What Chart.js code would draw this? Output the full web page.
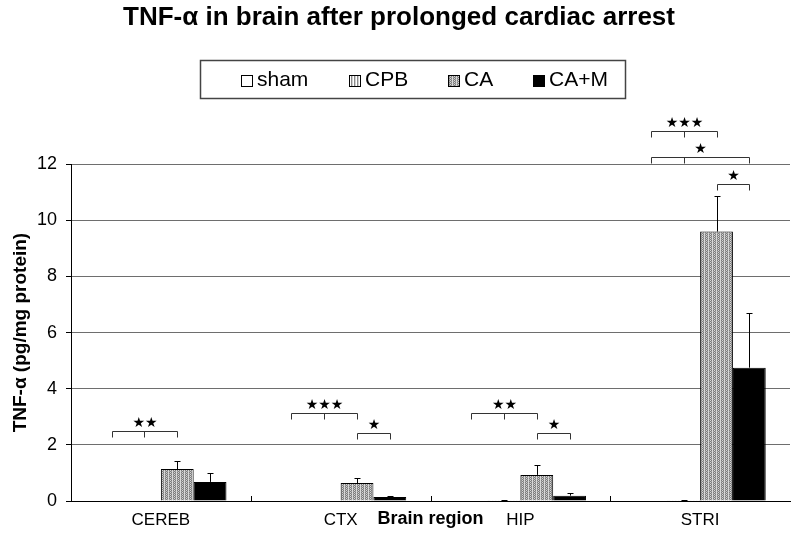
<!DOCTYPE html>
<html>
<head>
<meta charset="utf-8">
<script src="https://cdn.jsdelivr.net/npm/chart.js@4"></script>
<style>
  html, body { margin: 0; padding: 0; background: #fff; }
  #wrap { width: 800px; height: 537px; }
</style>
</head>
<body>
<div id="wrap"><canvas id="chart"></canvas></div>
<script>
// data
const regions = ['CEREB', 'CTX', 'HIP', 'STRI'];
const groups = ['sham', 'CPB', 'CA', 'CA+M'];
const shamVals = [0, 0, 0, 0];
const cpbVals = [0, 0, 0.03, 0.03];
const caVals = [1.14, 0.64, 0.93, 9.6];
const camVals = [0.68, 0.14, 0.19, 4.75];
const shamErr = [0, 0, 0, 0];
const cpbErr = [0, 0, 0.01, 0.01];
const caErr = [0.29, 0.18, 0.35, 1.26];
const camErr = [0.32, 0.03, 0.08, 1.95];
const yTicks = [0, 2, 4, 6, 8, 10, 12];

// significance brackets: region index, from group, to group, middle tick group, height, label
const brackets = [
    [0, 0, 2, 1, 2.5, '★★'],
    [1, 0, 2, 1, 3.15, '★★★'],
    [1, 2, 3, null, 2.43, '★'],
    [2, 0, 2, 1, 3.15, '★★'],
    [2, 2, 3, null, 2.43, '★'],
    [3, 0, 2, 1, 13.2, '★★★'],
    [3, 0, 3, 1, 12.25, '★'],
    [3, 2, 3, null, 11.3, '★']
];

const FONT = "'Liberation Sans', Arial, sans-serif";

function makePattern(kind) {
    const c = document.createElement('canvas');
    const ctx = c.getContext('2d');
    if (kind === 'stripes') {
        c.width = 3; c.height = 1;
        ctx.fillStyle = '#ffffff'; ctx.fillRect(0, 0, 3, 1);
        ctx.fillStyle = '#8a8a8a'; ctx.fillRect(0, 0, 1, 1);
        ctx.fillStyle = '#d0d0d0'; ctx.fillRect(1, 0, 1, 1);
    } else {
        // checker of dark/light with a light column every 4px
        c.width = 4; c.height = 2;
        ctx.fillStyle = '#d8d8d8'; ctx.fillRect(0, 0, 4, 2);
        ctx.fillStyle = '#7c7c7c';
        ctx.fillRect(1, 0, 1, 1);
        ctx.fillRect(3, 0, 1, 1);
        ctx.fillRect(2, 1, 1, 1);
        ctx.fillStyle = '#a8a8a8';
        ctx.fillRect(1, 1, 1, 1);
        ctx.fillRect(3, 1, 1, 1);
    }
    return ctx.createPattern(c, 'repeat');
}

const fills = ['#ffffff', makePattern('stripes'), makePattern('dots'), '#000000'];
const values = [shamVals, cpbVals, caVals, camVals];
const errors = [shamErr, cpbErr, caErr, camErr];

const extras = {
    id: 'extras',
    afterDatasetsDraw(chart) {
        const ctx = chart.ctx;
        const x = chart.scales.x, y = chart.scales.y;
        const area = chart.chartArea;
        ctx.save();
        ctx.strokeStyle = '#000';
        ctx.lineWidth = 1;

        // error bars (upper only)
        values.forEach((vals, d) => {
            const meta = chart.getDatasetMeta(d);
            vals.forEach((v, i) => {
                const e = errors[d][i];
                if (!e) return;
                const cx = Math.round(meta.data[i].x) + 0.5;
                const y0 = y.getPixelForValue(v);
                const y1 = Math.round(y.getPixelForValue(v + e)) + 0.5;
                ctx.beginPath();
                ctx.moveTo(cx, y0);
                ctx.lineTo(cx, y1);
                ctx.moveTo(cx - 3, y1);
                ctx.lineTo(cx + 3, y1);
                ctx.stroke();
            });
        });

        // small upward ticks between regions
        for (let i = 0; i < regions.length - 1; i++) {
            const bx = Math.round((x.getPixelForValue(i) + x.getPixelForValue(i + 1)) / 2) + 0.5;
            ctx.beginPath();
            ctx.moveTo(bx, area.bottom);
            ctx.lineTo(bx, area.bottom - 5);
            ctx.stroke();
        }

        // brackets
        ctx.strokeStyle = '#333';
        ctx.fillStyle = '#000';
        ctx.font = '14px DejaVu Sans';
        ctx.textAlign = 'center';
        ctx.textBaseline = 'bottom';
        brackets.forEach(([r, a, b, m, h, label]) => {
            const xa = Math.round(chart.getDatasetMeta(a).data[r].x) + 0.5;
            const xb = Math.round(chart.getDatasetMeta(b).data[r].x) + 0.5;
            const yy = Math.round(y.getPixelForValue(h)) + 0.5;
            ctx.beginPath();
            ctx.moveTo(xa, yy + 6);
            ctx.lineTo(xa, yy);
            ctx.lineTo(xb, yy);
            ctx.lineTo(xb, yy + 6);
            if (m !== null) {
                const xm = Math.round(chart.getDatasetMeta(m).data[r].x) + 0.5;
                ctx.moveTo(xm, yy);
                ctx.lineTo(xm, yy + 6);
            }
            ctx.stroke();
            ctx.fillText(label, (xa + xb) / 2, yy - 1);
        });

        // legend box
        ctx.strokeStyle = '#444';
        ctx.lineWidth = 1.5;
        ctx.strokeRect(200.5, 60.5, 425, 38);
        const lx = [241, 349, 448, 533];
        ctx.lineWidth = 1;
        ctx.strokeStyle = '#000';
        ctx.font = '21px ' + FONT;
        ctx.textAlign = 'left';
        ctx.textBaseline = 'middle';
        groups.forEach((g, d) => {
            ctx.fillStyle = fills[d];
            ctx.fillRect(lx[d] + 0.5, 75.5, 11, 11);
            ctx.strokeRect(lx[d] + 0.5, 75.5, 11, 11);
            ctx.fillStyle = '#000';
            ctx.fillText(g, lx[d] + 16, 80);
        });
        ctx.restore();
    }
};

new Chart(document.getElementById('chart'), {
    type: 'bar',
    data: {
        labels: regions,
        datasets: groups.map((g, d) => ({
            label: g,
            data: values[d],
            backgroundColor: fills[d],
            borderColor: '#000',
            borderWidth: 1,
            borderSkipped: 'bottom',
            barPercentage: 1,
            categoryPercentage: 0.73
        }))
    },
    options: {
        responsive: true,
        maintainAspectRatio: false,
        animation: false,
        layout: { padding: { left: 8, right: 10, top: 0, bottom: 0 } },
        plugins: {
            legend: { display: false },
            tooltip: { enabled: false },
            title: {
                display: true,
                text: 'TNF-α in brain after prolonged cardiac arrest',
                color: '#000',
                font: { family: FONT, size: 26, weight: 'bold' },
                padding: { top: 2, bottom: 131 }
            }
        },
        scales: {
            x: {
                grid: { display: false, drawTicks: false },
                border: { color: '#000', width: 1 },
                ticks: { color: '#000', font: { family: FONT, size: 17 }, padding: 9 },
                title: {
                    display: true,
                    text: 'Brain region',
                    color: '#000',
                    font: { family: FONT, size: 18, weight: 'bold' },
                    padding: { top: 0, bottom: 7 }
                },
                afterFit(scale) { scale.height = 36; }
            },
            y: {
                min: 0,
                max: 12,
                afterBuildTicks(scale) { scale.ticks = yTicks.map(v => ({ value: v })); },
                grid: { color: '#6e6e6e', lineWidth: 1, tickLength: 5, tickColor: '#000' },
                border: { color: '#000', width: 1 },
                ticks: { color: '#000', font: { family: FONT, size: 18 }, padding: 9 },
                title: {
                    display: true,
                    text: 'TNF-α (pg/mg protein)',
                    color: '#000',
                    font: { family: FONT, size: 19, weight: 'bold' },
                    padding: { top: 1, bottom: 0 }
                },
                afterFit(scale) { scale.width = 63; }
            }
        }
    },
    plugins: [extras]
});
</script>
</body>
</html>
